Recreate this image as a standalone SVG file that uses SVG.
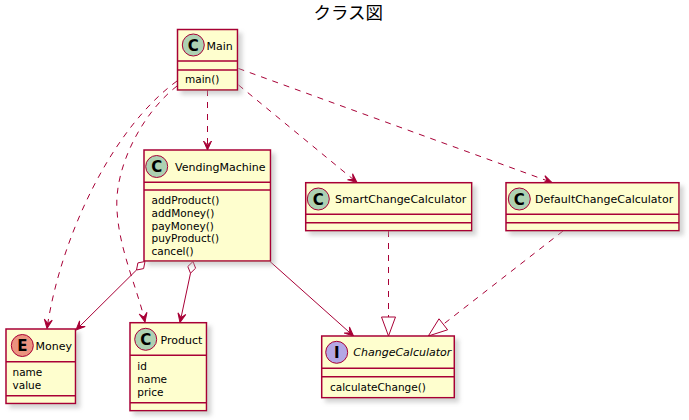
<svg xmlns="http://www.w3.org/2000/svg" width="689" height="420" viewBox="0 0 689 420">
<style>
.box{fill:#FEFECE;stroke:#A80036;stroke-width:1.5;filter:url(#sh)}
.div{stroke:#A80036;stroke-width:1.5}
.circ{stroke:#A80036;stroke-width:1}
.cC{fill:#ADD1B2}
.cE{fill:#EB937F}
.cI{fill:#B4A7E5}
.let{font-family:"DejaVu Sans",sans-serif;font-weight:bold;font-size:15px;fill:#000;text-anchor:middle}
.name{font-family:"DejaVu Sans",sans-serif;font-size:11px;fill:#000}
.mem{font-family:"DejaVu Sans",sans-serif;font-size:10.5px;fill:#000}
.title{font-family:"Noto Sans CJK JP","DejaVu Sans",sans-serif;font-size:17.5px;fill:#000;text-anchor:middle}
.dep{fill:none;stroke:#A80036;stroke-width:1;stroke-dasharray:6,6;marker-end:url(#arr)}
.sol{fill:none;stroke:#A80036;stroke-width:1;marker-end:url(#arr)}
.dash{fill:none;stroke:#A80036;stroke-width:1;stroke-dasharray:6,6}
.tri{fill:none;stroke:#A80036;stroke-width:1}
.dia{fill:#FFFFFF;stroke:#A80036;stroke-width:1}
</style>
<defs>
<filter id="sh" x="-20%" y="-20%" width="150%" height="150%">
<feOffset in="SourceAlpha" dx="4" dy="4" result="o"/>
<feGaussianBlur in="o" stdDeviation="2" result="b"/>
<feColorMatrix in="b" type="matrix" values="0 0 0 0 0.4  0 0 0 0 0.4  0 0 0 0 0.4  0 0 0 0.5 0" result="s"/>
<feMerge><feMergeNode in="s"/><feMergeNode in="SourceGraphic"/></feMerge>
</filter>
<marker id="arr" markerUnits="userSpaceOnUse" viewBox="-11 -6 13 12" refX="0" refY="0" markerWidth="13" markerHeight="12" orient="auto">
<path d="M0,0 L-9,-4 L-5,0 L-9,4 Z" fill="#A80036" stroke="#A80036" stroke-width="1" stroke-dasharray="none"/>
</marker>
</defs>
<rect width="689" height="420" fill="#FFFFFF"/>
<text class="title" x="348.3" y="18.5">クラス図</text>

<g id="connectors">
<path class="dep" d="M177,81 C110,130 60,240 47,328.5"/>
<path class="dep" d="M177,86 C140,115 114,170 117,210 C119,250 138,290 145,322"/>
<path class="dep" d="M207.5,90 L207.5,150"/>
<path class="dep" d="M238.5,85 L357,182.5"/>
<path class="dep" d="M238.5,68.5 L552,182.5"/>
<polygon class="dia" points="145,261.5 143.6,268.6 136.5,270 137.9,262.9"/>
<path class="sol" d="M136.5,270 L76,330"/>
<polygon class="dia" points="193,261.5 195.6,268.2 190.5,273.2 187.8,266.5"/>
<path class="sol" d="M190.5,273.2 L180,322.5"/>
<path class="sol" d="M270,261.5 L353.5,336"/>
<path class="dash" d="M388.5,231 L388.5,317"/>
<polygon class="tri" points="381.5,317 395.5,317 388.5,336"/>
<path class="dash" d="M563,231 L443.3,324.3"/>
<polygon class="tri" points="439,318.8 447.6,329.8 428.3,336"/>
</g>

<g id="Main">
<rect class="box" x="177.5" y="29.5" width="60" height="60.5"/>
<line class="div" x1="177.5" y1="61" x2="237.5" y2="61"/>
<line class="div" x1="177.5" y1="70" x2="237.5" y2="70"/>
<circle class="circ cC" cx="193.3" cy="45" r="11"/>
<text class="let" x="193.3" y="50.5">C</text>
<text class="name" x="206.5" y="49.5">Main</text>
<text class="mem" x="185" y="83">main()</text>
</g>

<g id="VendingMachine">
<rect class="box" x="144" y="150" width="126.5" height="111"/>
<line class="div" x1="144" y1="182.3" x2="270.5" y2="182.3"/>
<line class="div" x1="144" y1="190" x2="270.5" y2="190"/>
<circle class="circ cC" cx="156.7" cy="166.5" r="11"/>
<text class="let" x="156.7" y="172">C</text>
<text class="name" x="175" y="170.5">VendingMachine</text>
<text class="mem" x="151.5" y="204">addProduct()</text>
<text class="mem" x="151.5" y="216.8">addMoney()</text>
<text class="mem" x="151.5" y="229.5">payMoney()</text>
<text class="mem" x="151.5" y="242.3">puyProduct()</text>
<text class="mem" x="151.5" y="255">cancel()</text>
</g>

<g id="Money">
<rect class="box" x="6" y="329" width="69.5" height="74.5"/>
<line class="div" x1="6" y1="361.7" x2="75.5" y2="361.7"/>
<line class="div" x1="6" y1="395.7" x2="75.5" y2="395.7"/>
<circle class="circ cE" cx="22.3" cy="345.5" r="11"/>
<text class="let" x="22.3" y="351">E</text>
<text class="name" x="35.5" y="350">Money</text>
<text class="mem" x="12.5" y="376">name</text>
<text class="mem" x="12.5" y="388.5">value</text>
</g>

<g id="Product">
<rect class="box" x="130" y="322.7" width="76.5" height="88"/>
<line class="div" x1="130" y1="355.3" x2="206.5" y2="355.3"/>
<line class="div" x1="130" y1="402.7" x2="206.5" y2="402.7"/>
<circle class="circ cC" cx="145.7" cy="339.3" r="11"/>
<text class="let" x="145.7" y="344.8">C</text>
<text class="name" x="160.5" y="344">Product</text>
<text class="mem" x="137.3" y="370">id</text>
<text class="mem" x="137.3" y="382.7">name</text>
<text class="mem" x="137.3" y="395.5">price</text>
</g>

<g id="SmartChangeCalculator">
<rect class="box" x="305.7" y="182.7" width="166" height="48"/>
<line class="div" x1="305.7" y1="214.3" x2="471.7" y2="214.3"/>
<line class="div" x1="305.7" y1="222.7" x2="471.7" y2="222.7"/>
<circle class="circ cC" cx="318.3" cy="199" r="11"/>
<text class="let" x="318.3" y="204.5">C</text>
<text class="name" x="335" y="203.3">SmartChangeCalculator</text>
</g>

<g id="DefaultChangeCalculator">
<rect class="box" x="506" y="182.7" width="173" height="48"/>
<line class="div" x1="506" y1="214.3" x2="679" y2="214.3"/>
<line class="div" x1="506" y1="222.7" x2="679" y2="222.7"/>
<circle class="circ cC" cx="519.3" cy="199" r="11"/>
<text class="let" x="519.3" y="204.5">C</text>
<text class="name" x="535" y="203.3">DefaultChangeCalculator</text>
</g>

<g id="ChangeCalculator">
<rect class="box" x="321.7" y="336" width="132.6" height="61.7"/>
<line class="div" x1="321.7" y1="368.3" x2="454.3" y2="368.3"/>
<line class="div" x1="321.7" y1="376.7" x2="454.3" y2="376.7"/>
<circle class="circ cI" cx="336.7" cy="352.3" r="11"/>
<text class="let" x="336.7" y="357.8">I</text>
<text class="name" x="353.3" y="356" font-style="italic">ChangeCalculator</text>
<text class="mem" x="330" y="391">calculateChange()</text>
</g>
</svg>
